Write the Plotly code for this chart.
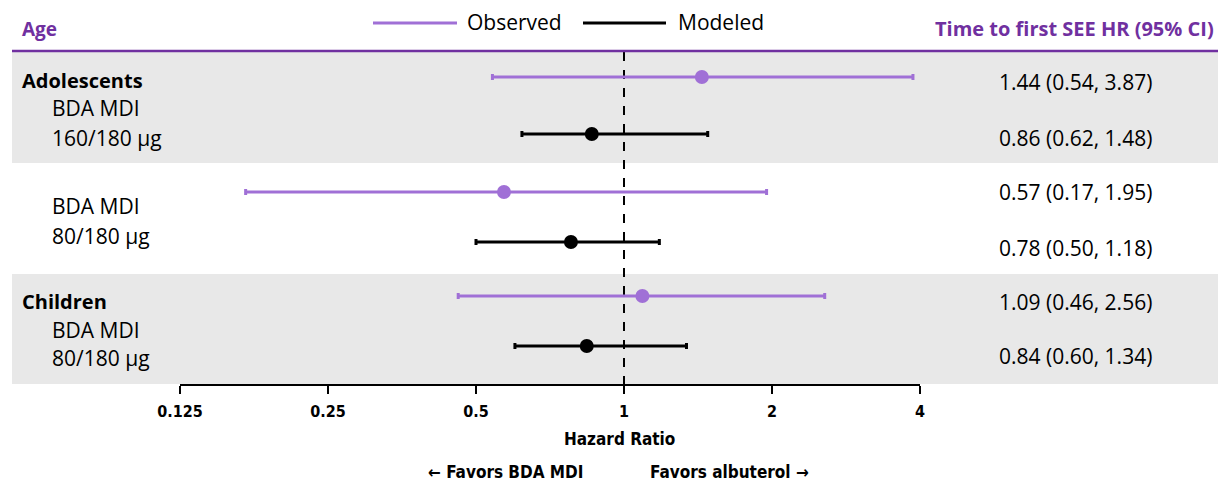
import plotly.graph_objects as go

# ---------------- data ----------------
obs_hr = [1.44, 0.57, 1.09]
obs_lo = [0.54, 0.17, 0.46]
obs_hi = [3.87, 1.95, 2.56]
mod_hr = [0.86, 0.78, 0.84]
mod_lo = [0.62, 0.50, 0.60]
mod_hi = [1.48, 1.18, 1.34]
tick_vals = [0.125, 0.25, 0.5, 1, 2, 4]
tick_text = ["0.125", "0.25", "0.5", "1", "2", "4"]
ci_text_obs = ["1.44 (0.54, 3.87)", "0.57 (0.17, 1.95)", "1.09 (0.46, 2.56)"]
ci_text_mod = ["0.86 (0.62, 1.48)", "0.78 (0.50, 1.18)", "0.84 (0.60, 1.34)"]

# ---------------- layout helpers ----------------
W, H = 1222, 484
obs_rows = [77, 192, 296]      # pixel rows (layout)
mod_rows = [134, 242, 346]
PURPLE_DARK = "#7030A0"
PURPLE = "#A070D6"
GREY = "#E8E8E8"
FONT = "Open Sans, Noto Sans, sans-serif"
NARROW = "Liberation Sans Narrow, DejaVu Sans Condensed, Liberation Sans, Arial, sans-serif"

def px(x):
    return x / W

def py(y):
    return 1 - y / H

fig = go.Figure()

# dashed reference line at HR = 1
fig.add_trace(go.Scatter(x=[1, 1], y=[52, 390], mode="lines",
                         line=dict(color="black", width=2, dash="dash"),
                         hoverinfo="skip", showlegend=False, cliponaxis=False))

def add_series(hr, lo, hi, rows, color):
    fig.add_trace(go.Scatter(
        x=hr, y=rows, mode="markers",
        marker=dict(color=color, size=14),
        error_x=dict(type="data", symmetric=False,
                     array=[h - m for h, m in zip(hi, hr)],
                     arrayminus=[m - l for m, l in zip(hr, lo)],
                     color=color, thickness=3, width=3),
        showlegend=False, cliponaxis=False))

add_series(obs_hr, obs_lo, obs_hi, obs_rows, PURPLE)
add_series(mod_hr, mod_lo, mod_hi, mod_rows, "black")

shapes = []
# grey bands
for y0, y1 in [(52, 163), (274, 384)]:
    shapes.append(dict(type="rect", xref="paper", yref="paper",
                       x0=px(12), x1=px(1218), y0=py(y1), y1=py(y0),
                       fillcolor=GREY, line=dict(width=0), layer="below"))
# header line
shapes.append(dict(type="line", xref="paper", yref="paper",
                   x0=px(12), x1=px(1218), y0=py(51), y1=py(51),
                   line=dict(color=PURPLE_DARK, width=2.5)))
# legend lines
shapes.append(dict(type="line", xref="paper", yref="paper",
                   x0=px(373), x1=px(457), y0=py(23), y1=py(23),
                   line=dict(color=PURPLE, width=3)))
shapes.append(dict(type="line", xref="paper", yref="paper",
                   x0=px(583), x1=px(666), y0=py(23), y1=py(23),
                   line=dict(color="black", width=3)))

annotations = []

def txt(x, y, s, size=21, color="black", bold=False, anchor="left", font=FONT):
    if bold:
        s = "<b>" + s + "</b>"
    annotations.append(dict(x=px(x), y=py(y), xref="paper", yref="paper",
                            text=s, showarrow=False, xanchor=anchor,
                            yanchor="middle",
                            font=dict(family=font, size=size, color=color)))

txt(20, 29, "Age", size=19, color=PURPLE_DARK, bold=True)
txt(1216, 29, "Time to first SEE HR (95% CI)", size=20, color=PURPLE_DARK,
    bold=True, anchor="right")
txt(465, 22, "Observed", size=21)
txt(676, 22, "Modeled", size=21)

txt(20, 80, "Adolescents", size=20, bold=True)
txt(50, 108, "BDA MDI")
txt(50, 138, "160/180 µg")
txt(50, 206, "BDA MDI")
txt(50, 236, "80/180 µg")
txt(20, 301, "Children", size=20, bold=True)
txt(50, 330, "BDA MDI")
txt(50, 358, "80/180 µg")

for t, y in zip(ci_text_obs, [82, 192, 302]):
    txt(1075, y, t, anchor="center")
for t, y in zip(ci_text_mod, [138, 248, 356]):
    txt(1075, y, t, anchor="center")

txt(619, 439, "Hazard Ratio", size=17, bold=True, anchor="center", font=NARROW)
txt(585, 472, "← Favors BDA MDI", size=17, bold=True, anchor="right", font=NARROW)
txt(648, 472, "Favors albuterol →", size=17, bold=True, anchor="left", font=NARROW)

fig.update_layout(
    width=W, height=H,
    margin=dict(l=0, r=0, t=0, b=0, autoexpand=False),
    paper_bgcolor="white", plot_bgcolor="rgba(0,0,0,0)",
    shapes=shapes, annotations=annotations,
    showlegend=False,
    xaxis=dict(type="log", range=[-0.90309, 0.60206],
               domain=[px(180), px(920)], automargin=False,
               tickvals=tick_vals, ticktext=tick_text,
               showline=True, linecolor="black", linewidth=2,
               ticks="outside", ticklen=8, tickwidth=2, tickcolor="black",
               ticklabelstandoff=4,
               tickfont=dict(family=NARROW, size=16, color="black", weight="bold"),
               showgrid=False, zeroline=False, fixedrange=True),
    yaxis=dict(range=[384, 0], domain=[1 - 384 / H, 1], automargin=False,
               showgrid=False, zeroline=False, showticklabels=False,
               showline=False, fixedrange=True),
)

fig.write_html("out.html")
